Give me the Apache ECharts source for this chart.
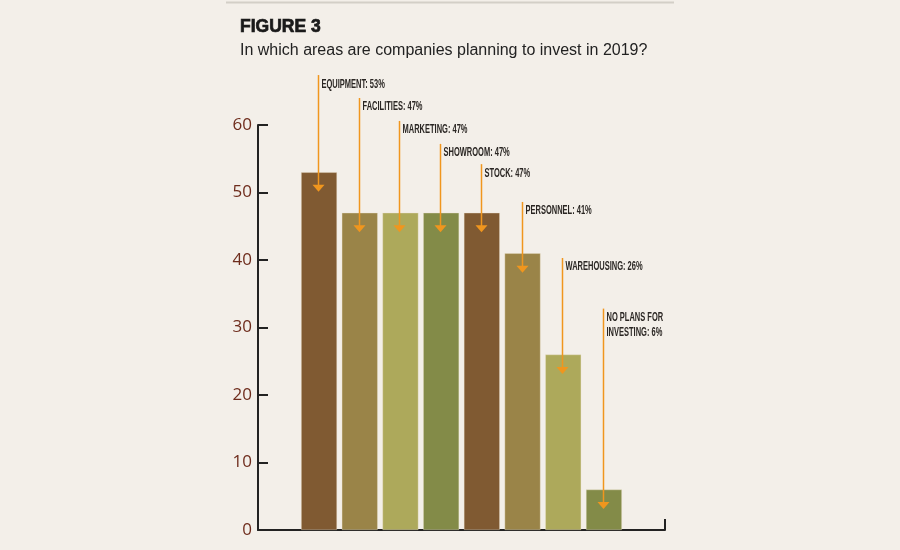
<!DOCTYPE html>
<html>
<head>
<meta charset="utf-8">
<script src="https://cdn.jsdelivr.net/npm/echarts@6/dist/echarts.min.js"></script>
<style>
  html, body { margin: 0; padding: 0; background: #f3efe9; }
  #chart { width: 900px; height: 550px; }
</style>
</head>
<body>
<div id="chart"></div>
<script>
// chart data
var categories = ['EQUIPMENT', 'FACILITIES', 'MARKETING', 'SHOWROOM', 'STOCK', 'PERSONNEL', 'WAREHOUSING', 'NO PLANS FOR\nINVESTING'];
var values = [53, 47, 47, 47, 47, 41, 26, 6];
var yTicks = [0, 10, 20, 30, 40, 50, 60];

// where each callout line starts (in axis units, above its bar)
var calloutTop = [67.4, 64, 60.6, 57.2, 54.2, 48.6, 40.3, 32.8];
var barColors = ['#805a32', '#9a8448', '#ada95b', '#838b48', '#805a32', '#9a8448', '#ada95b', '#838b48'];

var chart = echarts.init(document.getElementById('chart'));

var opts = {
  backgroundColor: '#f3efe9',
  animation: false,
  title: [
    {
      text: 'FIGURE 3',
      left: 240,
      top: 18,
      padding: 0,
      textStyle: { fontFamily: 'Liberation Sans', fontWeight: 900, fontSize: 17.5, color: '#1a1a1a', textBorderColor: '#1a1a1a', textBorderWidth: 0.7 }
    },
    {
      text: 'In which areas are companies planning to invest in 2019?',
      left: 240,
      top: 43,
      padding: 0,
      textStyle: { fontFamily: 'Liberation Sans', fontWeight: 'normal', fontSize: 16, color: '#222' }
    }
  ],
  graphic: [
    { type: 'line', shape: { x1: 226, y1: 2.5, x2: 674, y2: 2.5 }, style: { stroke: '#d3cfc7', lineWidth: 2 } }
  ],
  grid: { left: 258, top: 125, width: 407, height: 405 },
  xAxis: {
    type: 'value',
    min: -1.5,
    max: 8.5,
    interval: 10,
    axisLine: { show: true, onZero: false, lineStyle: { color: '#222', width: 2 } },
    axisTick: { show: true, inside: true, length: 11, lineStyle: { color: '#222', width: 2 } },
    axisLabel: { show: false },
    splitLine: { show: false }
  },
  yAxis: {
    type: 'value',
    min: yTicks[0],
    max: yTicks[yTicks.length - 1],
    interval: 10,
    axisLine: { show: true, onZero: false, lineStyle: { color: '#222', width: 2 } },
    axisTick: { show: true, inside: true, length: 10, lineStyle: { color: '#222', width: 2 } },
    axisLabel: { color: '#6e2c1c', fontFamily: 'Open Sans', fontSize: 17, margin: 6 },
    splitLine: { show: false }
  },
  series: [
    {
      type: 'bar',
      barWidth: 36,
      z: 2,
      data: values.map(function (v, i) {
        return { value: [i, v], itemStyle: { color: barColors[i] } };
      }),
      itemStyle: { borderColor: 'rgba(235,228,205,0.6)', borderWidth: 0.6 }
    },
    {
      // orange callout arrows + labels
      type: 'custom',
      z: 5,
      data: categories.map(function (c, i) { return [i, values[i], calloutTop[i]]; }),
      renderItem: function (params, api) {
        var i = api.value(0);
        var top = api.coord([i, api.value(2)]);
        var tip = api.coord([i, api.value(1) - 2.9]);
        var x = Math.round(top[0]) - 1 + 0.5;
        var txt = categories[params.dataIndex] + ': ' + values[params.dataIndex] + '%';
        return {
          type: 'group',
          children: [
            { type: 'line', shape: { x1: x, y1: top[1], x2: x, y2: tip[1] - 5 }, style: { stroke: '#f0961e', lineWidth: 1.5 } },
            { type: 'polygon', shape: { points: [[x - 6, tip[1] - 7], [x + 6, tip[1] - 7], [x, tip[1]]] }, style: { fill: '#f0961e' } },
            {
              type: 'text', x: x + 3, y: top[1] + 1.5, scaleX: 0.6,
              style: {
                text: txt, fill: '#2a2623',
                font: 'bold 12.5px "Liberation Sans"',
                lineHeight: 15, verticalAlign: 'top', align: 'left'
              }
            }
          ]
        };
      }
    }
  ]
};

chart.setOption(opts);
</script>
</body>
</html>
